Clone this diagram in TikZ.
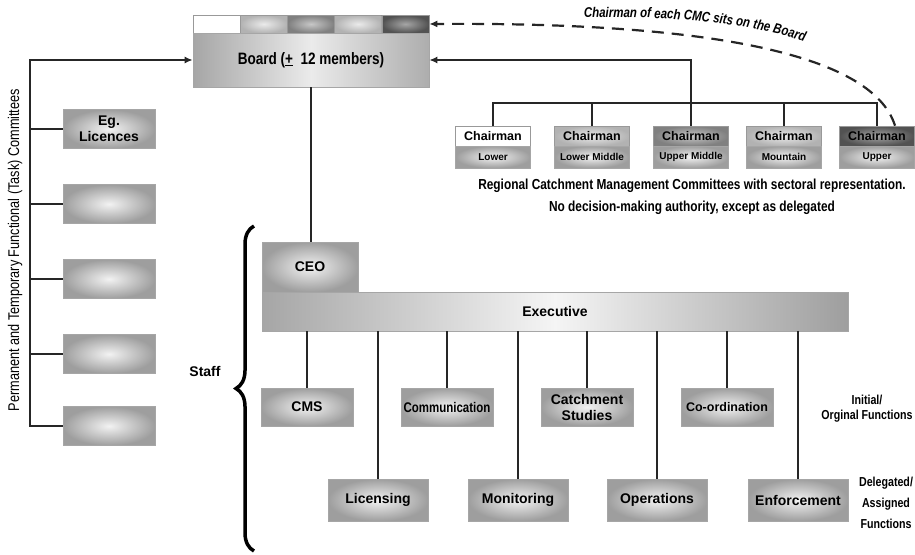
\documentclass[tikz,border=0pt]{standalone}
\usepackage{fontspec}
\setmainfont{Liberation Sans}
\newfontfamily\narrowfont{Liberation Sans}[FakeStretch=0.82]
\usetikzlibrary{arrows.meta,decorations.pathreplacing,decorations.text}

\begin{document}
\begin{tikzpicture}[x=1pt, y=-1pt, font=\bfseries\fontsize{14}{16}\selectfont,
  arr/.style={-{Latex[length=8pt,width=7pt]}, line width=1.6pt, draw=black!85},
  link/.style={line width=1.6pt, draw=black!85},
  unit/.style={draw=black!35, line width=0.6pt, inner sep=0pt, align=center,
               inner color=black!5, outer color=black!38},
  cell/.style={draw=black!40, line width=0.6pt, inner sep=0pt,
               minimum width=47.2pt, minimum height=18pt},
  chtop/.style={cell, minimum width=75pt, minimum height=20pt,
                font=\bfseries\fontsize{12.5}{14}\selectfont},
  chbot/.style={unit, minimum width=75pt, minimum height=22pt,
                font=\bfseries\fontsize{10}{12}\selectfont},
  initbox/.style={unit, minimum width=92pt, minimum height=38pt},
  delbox/.style={unit, minimum width=100pt, minimum height=42pt}]
  \useasboundingbox (0,0) rectangle (915,554);
  % Board and the regional chairmen
  \foreach \i/\sx/\cx/\ti/\to/\sub in {1/216.6/493/0/0/Lower, 2/263.8/592/8/30/Lower Middle,
      3/311/691/22/50/Upper Middle, 4/358.2/784/8/30/Mountain, 5/405.4/877/35/68/Upper}{
    \node[cell, inner color=black!\ti, outer color=black!\to] (s\i) at (\sx,24) {};
    \node[chtop, inner color=black!\ti, outer color=black!\to] (ch\i) at (\cx,136) {Chairman};
    \node[chbot] (chs\i) at (\cx,157) {\sub};
  }
  \node[unit, minimum width=236pt, minimum height=54pt, left color=black!35, right color=black!32,
        middle color=black!8, font=\narrowfont\bfseries\fontsize{16.5}{18}\selectfont]
    (board) at (311,60) {Board (\underline{+}\ \ 12 members)};
  \coordinate (bus) at (0,103);
  \draw[link] (ch1.north) -- (ch1.north |- bus) -- (ch5.north |- bus) -- (ch5.north);
  \foreach \n in {2,4} \draw[link] (ch\n.north) -- (ch\n.north |- bus);
  \draw[arr] (ch3.north) |- (board.east);
  \draw[arr, line width=2.2pt, dash pattern=on 12pt off 8pt] ([xshift=18pt]ch5.north)
    .. controls (872,52) and (700,22) .. (s5.east);
  \path[decorate, decoration={text along path, text align=left,
        text={|\narrowfont\bfseries\itshape\fontsize{14}{16}\selectfont|Chairman of each CMC sits on the Board}}]
    (584,18) .. controls (680,15) and (762,25) .. (815,46);
  \node[align=center, font=\narrowfont\bfseries\fontsize{14.5}{22}\selectfont] (rcmc) at (692,197)
    {Regional Catchment Management Committees with sectoral representation.\\
     No decision-making authority, except as delegated};
  % Task committees
  \foreach \y/\n/\t in {129/1/{Eg.\\Licences}, 204/2/{}, 279/3/{}, 354/4/{}, 426/5/{}}
    \node[unit, minimum width=92pt, minimum height=39pt] (com\n) at (109,\y) {\t};
  \coordinate (spine) at (30,60);
  \draw[arr] (com5.west) -| (spine) -- (board.west);
  \foreach \n in {1,...,4} \draw[link] (com\n.west) -- (com\n.west -| spine);
  \node[rotate=90, font=\narrowfont\fontsize{15.5}{18}\selectfont] (taskl) at (15,250)
    {Permanent and Temporary Functional (Task) Committees};
  % Executive and staff
  \node[unit, minimum width=96pt, minimum height=50pt] (ceo) at (310,267) {CEO};
  \node[unit, minimum width=586pt, minimum height=39pt, left color=black!35, right color=black!38,
        middle color=black!4] (exec) at (555,311.5) {Executive};
  \draw[link] (board.south) -- (board.south |- ceo.north);
  \node[initbox] (cms) at (307,407) {CMS};
  \node[initbox, font=\narrowfont\bfseries\fontsize{14}{16}\selectfont] (comm) at (447,407) {Communication};
  \node[initbox] (cstud) at (587,407) {Catchment\\Studies};
  \node[initbox, font=\bfseries\fontsize{12.5}{14}\selectfont] (coord) at (727,407) {Co-ordination};
  \node[delbox] (lic) at (378,500) {Licensing};
  \node[delbox] (mon) at (518,500) {Monitoring};
  \node[delbox] (ops) at (657,500) {Operations};
  \node[delbox] (enf) at (798,500) {Enforcement};
  \foreach \n in {cms,comm,cstud,coord,lic,mon,ops,enf}
    \draw[link] (\n.north) -- (\n.north |- exec.south);
  \draw[line width=3.5pt, decorate, decoration={brace, amplitude=18pt}] (254,551) -- (254,226);
  \node (staff) at (205,371) {Staff};
  \node[align=center, font=\narrowfont\bfseries\fontsize{13}{15}\selectfont] (initl) at (867,409)
    {Initial/\\Orginal Functions};
  \node[align=center, font=\narrowfont\bfseries\fontsize{13}{21}\selectfont] (dell) at (886,503)
    {Delegated/\\Assigned\\Functions};
\end{tikzpicture}
\end{document}
